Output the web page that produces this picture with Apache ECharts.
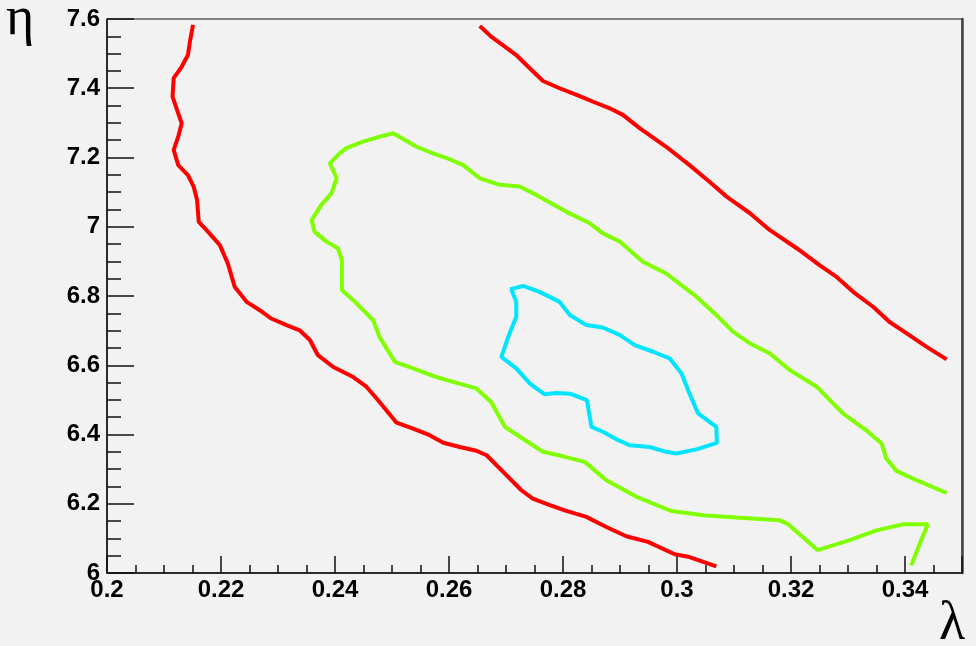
<!DOCTYPE html>
<html>
<head>
<meta charset="utf-8">
<script src="https://cdn.jsdelivr.net/npm/echarts@6/dist/echarts.min.js"></script>
<style>
html,body{margin:0;padding:0;background:#f2f2f2;}
#chart{width:976px;height:646px;}
</style>
</head>
<body>
<div id="chart"></div>
<script>
// Axis ticks
const xTicks = [0.2, 0.22, 0.24, 0.26, 0.28, 0.3, 0.32, 0.34];
const yTicks = [6, 6.2, 6.4, 6.6, 6.8, 7, 7.2, 7.4, 7.6];

// Red contour, left branch (lambda, eta)
const redLeftLambda = [0.2151,0.2146,0.2142,0.2131,0.2117,0.2115,0.2123,0.2131,0.2125,0.2117,0.2125,0.2142,0.2152,0.2158,0.2161,0.2177,0.2198,0.2212,0.2224,0.2245,0.2268,0.2288,0.2315,0.2338,0.2356,0.2370,0.2397,0.2432,0.2455,0.2473,0.2490,0.2508,0.2537,0.2566,0.2590,0.2619,0.2648,0.2666,0.2695,0.2727,0.2747,0.2777,0.2803,0.2841,0.2876,0.2911,0.2949,0.2996,0.3022,0.3069];
const redLeftEta    = [7.583,7.540,7.496,7.462,7.429,7.376,7.337,7.299,7.260,7.222,7.178,7.149,7.116,7.077,7.014,6.986,6.947,6.894,6.827,6.783,6.759,6.735,6.716,6.701,6.673,6.629,6.595,6.566,6.538,6.504,6.470,6.434,6.417,6.398,6.376,6.364,6.353,6.340,6.292,6.239,6.215,6.196,6.181,6.162,6.133,6.106,6.090,6.054,6.046,6.019];

// Red contour, right branch
const redRightLambda = [0.2654,0.2674,0.2698,0.2718,0.2739,0.2765,0.2794,0.2824,0.2853,0.2882,0.2905,0.2935,0.2981,0.3022,0.3057,0.3087,0.3128,0.3163,0.3210,0.3250,0.3280,0.3309,0.3344,0.3373,0.3403,0.3438,0.3473];
const redRightEta    = [7.580,7.549,7.520,7.496,7.462,7.421,7.400,7.381,7.361,7.342,7.323,7.284,7.231,7.178,7.130,7.087,7.039,6.990,6.938,6.889,6.855,6.812,6.769,6.725,6.692,6.653,6.617];

// Green contour
const greenLambda = [0.3473,0.3420,0.3385,0.3367,0.3359,0.3332,0.3291,0.3245,0.3198,0.3163,0.3128,0.3098,0.3069,0.3034,0.2981,0.2940,0.2900,0.2870,0.2847,0.2806,0.2753,0.2724,0.2689,0.2654,0.2625,0.2601,0.2572,0.2543,0.2502,0.2478,0.2449,0.2420,0.2408,0.2391,0.2403,0.2394,0.2376,0.2359,0.2364,0.2385,0.2405,0.2412,0.2412,0.2432,0.2467,0.2478,0.2505,0.2537,0.2572,0.2607,0.2648,0.2674,0.2698,0.2733,0.2765,0.2800,0.2838,0.2876,0.2929,0.2990,0.3046,0.3104,0.3180,0.3195,0.3247,0.3303,0.3350,0.3397,0.3440,0.3426,0.3411];
const greenEta    = [6.231,6.268,6.295,6.331,6.374,6.412,6.461,6.538,6.586,6.634,6.663,6.697,6.745,6.798,6.865,6.899,6.957,6.981,7.010,7.043,7.092,7.116,7.121,7.140,7.178,7.195,7.212,7.231,7.270,7.260,7.246,7.227,7.212,7.183,7.140,7.097,7.063,7.019,6.986,6.957,6.938,6.904,6.817,6.788,6.730,6.682,6.610,6.591,6.569,6.552,6.533,6.494,6.422,6.384,6.350,6.337,6.321,6.268,6.220,6.179,6.167,6.160,6.152,6.141,6.066,6.095,6.123,6.141,6.141,6.085,6.022];

// Cyan contour (closed)
const cyanLambda = [0.2707,0.2730,0.2759,0.2794,0.2812,0.2841,0.2870,0.2900,0.2926,0.2958,0.2987,0.3008,0.3022,0.3037,0.3069,0.3070,0.3034,0.2999,0.2981,0.2952,0.2917,0.2894,0.2870,0.2850,0.2842,0.2812,0.2788,0.2768,0.2742,0.2718,0.2692,0.2704,0.2718,0.2718,0.2710,0.2707];
const cyanEta    = [6.819,6.829,6.812,6.783,6.745,6.716,6.709,6.687,6.658,6.639,6.620,6.576,6.518,6.461,6.422,6.376,6.357,6.345,6.350,6.364,6.369,6.386,6.408,6.422,6.499,6.518,6.520,6.516,6.547,6.591,6.624,6.682,6.740,6.783,6.817,6.819];

function zip(a, b) { return a.map((v, i) => [v, b[i]]); }

const chart = echarts.init(document.getElementById('chart'), null, {renderer: 'canvas'});

const labelStyle = {
  fontFamily: 'Liberation Sans, Arial, sans-serif',
  fontWeight: 'bold',
  fontSize: 24,
  color: '#000'
};

function lineSeries(data, color) {
  return {
    type: 'line',
    data: data,
    showSymbol: false,
    symbol: 'none',
    smooth: false,
    silent: true,
    animation: false,
    lineStyle: {color: color, width: 4},
    xAxisIndex: 0,
    yAxisIndex: 0
  };
}

chart.setOption({
  backgroundColor: '#f2f2f2',
  animation: false,
  grid: {
    left: 107, right: 14, top: 19, bottom: 73,
    show: true,
    borderColor: '#111',
    borderWidth: 1,
    backgroundColor: 'transparent'
  },
  xAxis: {
    type: 'value',
    min: 0.2, max: 0.35, interval: 0.02,
    axisLine: {show: true, onZero: false, lineStyle: {color: '#111', width: 1.5}},
    axisTick: {show: true, inside: true, length: 17, lineStyle: {color: '#111', width: 1.5}},
    minorTick: {show: true, splitNumber: 4, length: 8, lineStyle: {color: '#111', width: 1.5}},
    splitLine: {show: false},
    minorSplitLine: {show: false},
    axisLabel: {
      show: true, margin: 5, showMaxLabel: false,
      formatter: function (v) {
        const r = Math.round(v * 1000) / 1000;
        return xTicks.indexOf(r) >= 0 ? String(r) : '';
      },
      ...labelStyle
    }
  },
  yAxis: [{
    type: 'value',
    min: 6, max: 7.6, interval: 0.2,
    axisLine: {show: true, onZero: false, lineStyle: {color: '#111', width: 1.5}},
    axisTick: {show: true, inside: true, length: 27, lineStyle: {color: '#111', width: 1.5}},
    minorTick: {show: true, splitNumber: 4, length: 14, lineStyle: {color: '#111', width: 1.5}},
    splitLine: {show: false},
    minorSplitLine: {show: false},
    axisLabel: {
      show: true, margin: 7,
      formatter: function (v) {
        const r = Math.round(v * 1000) / 1000;
        return yTicks.indexOf(r) >= 0 ? String(r) : '';
      },
      ...labelStyle
    }
  }, {
    type: 'value',
    position: 'right',
    min: 6, max: 7.6,
    axisLine: {show: true, lineStyle: {color: '#444', width: 2.5}},
    axisTick: {show: false},
    axisLabel: {show: false},
    splitLine: {show: false}
  }],
  graphic: [
    {type: 'text', left: 6, top: -7, silent: true,
     style: {text: 'η', font: '54px "Liberation Serif", "Times New Roman", serif', fill: '#000'}},
    {type: 'text', left: 939, top: 598, silent: true,
     style: {text: 'λ', font: '54px "Liberation Serif", "Times New Roman", serif', fill: '#000'}}
  ],
  series: [
    lineSeries(zip(redLeftLambda, redLeftEta), '#ff0000'),
    lineSeries(zip(redRightLambda, redRightEta), '#ff0000'),
    lineSeries(zip(greenLambda, greenEta), '#80ff00'),
    lineSeries(zip(cyanLambda, cyanEta), '#00e5ff')
  ]
});
</script>
</body>
</html>
